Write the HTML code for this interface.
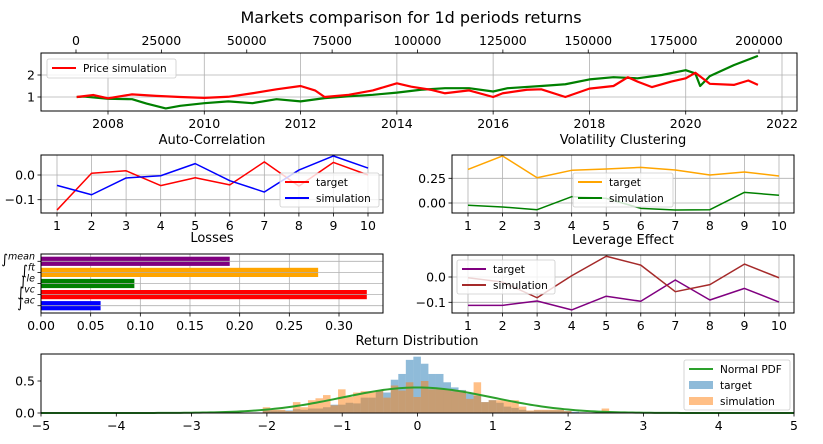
<!DOCTYPE html>
<html><head><meta charset="utf-8"><style>
html,body{margin:0;padding:0;background:#fff;}
svg{display:block;font-family:"DejaVu Sans","Liberation Sans",sans-serif;}
</style></head><body>
<svg id="fig" width="823" height="444" viewBox="0 0 823 444" xmlns="http://www.w3.org/2000/svg">
<text x="411" y="23" font-size="16" text-anchor="middle">Markets comparison for 1d periods returns</text>
</svg>
<script>
// ---- price panel data ----
const simYears=[2007.35,2007.7,2008,2008.5,2009,2009.5,2010,2010.5,2011,2011.5,2012,2012.3,2012.5,2013,2013.5,2014,2014.3,2014.7,2015,2015.5,2016,2016.2,2016.7,2017,2017.5,2018,2018.5,2018.8,2019,2019.3,2019.7,2020,2020.2,2020.5,2021,2021.3,2021.5];
const simPrice=[1.0,1.09,0.94,1.12,1.05,1.0,0.96,1.01,1.17,1.35,1.5,1.3,1.0,1.1,1.3,1.62,1.47,1.33,1.17,1.3,1.0,1.17,1.33,1.35,1.0,1.38,1.5,1.9,1.7,1.45,1.7,1.85,2.1,1.6,1.55,1.75,1.55];
const tgtYears=[2007.35,2007.5,2008,2008.5,2008.8,2009.2,2009.5,2010,2010.5,2011,2011.5,2012,2012.5,2013,2013.5,2014,2014.5,2015,2015.5,2016,2016.3,2017,2017.5,2018,2018.5,2019,2019.5,2020,2020.2,2020.3,2020.5,2021,2021.5];
const tgtPrice=[1.0,1.02,0.92,0.9,0.7,0.48,0.6,0.72,0.8,0.72,0.9,0.8,0.95,1.03,1.1,1.2,1.33,1.4,1.4,1.25,1.4,1.5,1.58,1.8,1.9,1.85,2.0,2.22,2.07,1.5,1.95,2.45,2.87];
const yearTicks=[2008,2010,2012,2014,2016,2018,2020,2022];
const stepTicks=[0,25000,50000,75000,100000,125000,150000,175000,200000];
// ---- lag panels ----
const lags=[1,2,3,4,5,6,7,8,9,10];
const acTarget=[-0.142,0.007,0.017,-0.043,-0.011,-0.04,0.053,-0.045,0.051,0.0];
const acSim=[-0.042,-0.08,-0.012,-0.003,0.046,-0.023,-0.069,0.02,0.077,0.028];
const vcTarget=[0.34,0.476,0.256,0.331,0.344,0.361,0.334,0.283,0.314,0.273];
const vcSim=[-0.023,-0.04,-0.068,0.064,0.047,-0.054,-0.071,-0.068,0.108,0.078];
const leTarget=[-0.112,-0.112,-0.095,-0.13,-0.076,-0.096,-0.012,-0.091,-0.045,-0.099];
const leSim=[-0.003,-0.02,-0.082,0.005,0.082,0.047,-0.058,-0.03,0.051,-0.003];
// ---- losses ----
const lossNames=['ac','vc','le','ft','mean'];
const lossValues=[0.06,0.328,0.094,0.279,0.19];
const lossColors=['blue','red','green','orange','purple'];
const lossTicks=[0,0.05,0.1,0.15,0.2,0.25,0.3];
// ---- histogram ----
const binStart=-2.055, binWidth=0.1;
const histTarget=[0.04,0.04,0.04,0.04,0.06,0.05,0.07,0.07,0.09,0.13,0.13,0.16,0.15,0.24,0.24,0.34,0.32,0.52,0.61,0.83,0.88,0.77,0.61,0.61,0.48,0.4,0.36,0.3,0.27,0.17,0.2,0.16,0.1,0.08,0.05,0.03,0.04,0.04,0.04,0.04,0.03,0.02,0.01,0,0,0];
const histSim=[0.09,0.05,0.05,0.03,0.17,0.09,0.2,0.23,0.28,0.12,0.37,0.25,0.32,0.34,0.34,0.36,0.24,0.43,0.35,0.48,0.25,0.5,0.37,0.38,0.36,0.34,0.35,0.22,0.48,0.17,0.2,0.2,0.2,0.2,0.1,0.04,0.05,0.05,0.05,0.05,0.03,0,0,0,0,0.07];
const histXTicks=[-5,-4,-3,-2,-1,0,1,2,3,4,5];

const svg=document.getElementById('fig');
const NS='http://www.w3.org/2000/svg';
function mk(tag,attrs,parent,txt){const e=document.createElementNS(NS,tag);for(const k in attrs)e.setAttribute(k,attrs[k]);if(txt!==undefined)e.textContent=txt;(parent||svg).appendChild(e);return e;}
function lin(d0,d1,r0,r1){return v=>r0+(v-d0)*(r1-r0)/(d1-d0);}
function grp(name){const g=mk('g',{});return g;}
const GRID='#b0b0b0';
function frame(g,x0,y0,x1,y1){const r=mk('rect',{x:x0,y:y0,width:x1-x0,height:y1-y0,fill:'none',stroke:'#000','stroke-width':1},g);}
function xtick(g,x,yb,label,grid,ytop){if(grid)mk('line',{x1:x,x2:x,y1:ytop,y2:yb,stroke:GRID,'stroke-width':0.8},g);mk('line',{x1:x,x2:x,y1:yb,y2:yb+3.5,stroke:'#000','stroke-width':0.8},g);const t=mk('text',{x:x,y:yb+17,'font-size':12.5,'text-anchor':'middle'},g,label);}
function ytick(g,y,xl,label,grid,xr){if(grid)mk('line',{x1:xl,x2:xr,y1:y,y2:y,stroke:GRID,'stroke-width':0.8},g);mk('line',{x1:xl-3.5,x2:xl,y1:y,y2:y,stroke:'#000','stroke-width':0.8},g);const t=mk('text',{x:xl-6,y:y+4.5,'font-size':12.5,'text-anchor':'end'},g,label);}
function line(g,xs,ys,sx,sy,color,name,w){const p=mk('polyline',{points:xs.map((x,i)=>sx(x)+','+sy(ys[i])).join(' '),fill:'none',stroke:color,'stroke-width':w||1.5,'stroke-linejoin':'round'},g);}
function legend(g,x,y,w,h,entries){const lg=mk('g',{},g);
 mk('rect',{x:x,y:y,width:w,height:h,rx:2,fill:'#fff','fill-opacity':0.8,stroke:'#ccc','stroke-width':0.8},lg);
 entries.forEach((e,i)=>{const cy=y+9+i*16;const eg=mk('g',{},lg);
  if(e.patch)mk('rect',{x:x+5,y:cy-4,width:24,height:8,fill:e.color,'fill-opacity':0.5},eg);else mk('line',{x1:x+5,x2:x+29,y1:cy,y2:cy,stroke:e.color,'stroke-width':2},eg);
  mk('text',{x:x+36,y:cy+4,'font-size':10.5},eg,e.label);});}
function title(g,x,y,t){const e=mk('text',{x:x,y:y,'font-size':13,'text-anchor':'middle'},g,t);}

// ---- price panel ----
(function(){const g=grp('price-panel');const X0=41,X1=797,Y0=53,Y1=111;
 const sx=lin(2008,2022,108,782), sy=lin(1,2,97,75), st=lin(0,200000,76,759);
 yearTicks.forEach(v=>xtick(g,sx(v),Y1,String(v),true,Y0));
 [1,2].forEach(v=>ytick(g,sy(v),X0,String(v),true,X1));
 stepTicks.forEach(v=>{const x=st(v);mk('line',{x1:x,x2:x,y1:Y0-3.5,y2:Y0,stroke:'#000','stroke-width':0.8},g);const t=mk('text',{x:x,y:Y0-8,'font-size':12.5,'text-anchor':'middle'},g,String(v));});
 line(g,tgtYears,tgtPrice,sx,sy,'green','target-price-line',2.2);
 line(g,simYears,simPrice,sx,sy,'red','simulated-price-line',2.2);
 frame(g,X0,Y0,X1,Y1);
 legend(g,47,59,129,19,[{label:'Price simulation',color:'red'}]);
})();
// ---- generic lag panel ----
function lagPanel(name,ttl,X0,X1,Y0,Y1,yA,pA,yB,pB,yticks,tA,tB,cA,cB,lgx,lgy,lgw){const g=grp(name);
 const sx=lin(1,10,X0+16,X1-15), sy=lin(yA,yB,pA,pB);
 lags.forEach(v=>xtick(g,sx(v),Y1,String(v),true,Y0));
 yticks.forEach(v=>ytick(g,sy(v[0]),X0,v[1],true,X1));
 line(g,lags,tA,sx,sy,cA,'target-line');line(g,lags,tB,sx,sy,cB,'simulation-line');
 frame(g,X0,Y0,X1,Y1);title(g,(X0+X1)/2,Y0-11,ttl);
 legend(g,lgx,lgy,lgw,34,[{label:'target',color:cA},{label:'simulation',color:cB}]);}
lagPanel('auto-correlation-panel','Auto-Correlation',41,383,155,213,0,175,-0.1,199.7,[[0,'0.0'],[-0.1,'\u22120.1']],acTarget,acSim,'red','blue',280,173,99);
lagPanel('volatility-clustering-panel','Volatility Clustering',452,794,155,213,0,203,0.25,178.3,[[0.25,'0.25'],[0,'0.00']],vcTarget,vcSim,'orange','green',573,173,100);
lagPanel('leverage-effect-panel','Leverage Effect',452,794,255,313,0,277,-0.1,302.3,[[0,'0.0'],[-0.1,'\u22120.1']],leTarget,leSim,'purple','brown',457,260,98);
// ---- losses ----
(function(){const g=grp('losses-panel');const X0=41,X1=383,Y0=254,Y1=313;
 const sx=lin(0,0.3,41,339), sy=lin(0,4,305.7,261.3);
 lossTicks.forEach(v=>{const x=sx(v);mk('line',{x1:x,x2:x,y1:Y0,y2:Y1,stroke:GRID,'stroke-width':0.8},g);});
 lossValues.forEach((v,i)=>{const r=mk('rect',{x:sx(0),y:sy(i)-4.6,width:sx(v)-sx(0),height:9.2,fill:lossColors[i]},g);});
 lossTicks.forEach(v=>xtick(g,sx(v),Y1,v.toFixed(2),false,Y0));
 lossNames.forEach((n,i)=>{const y=sy(i);mk('line',{x1:X0,x2:X1,y1:y,y2:y,stroke:GRID,'stroke-width':0.8},g);mk('line',{x1:X0-3.5,x2:X0,y1:y,y2:y,stroke:'#000','stroke-width':0.8},g);
  const t=mk('text',{x:X0-6,y:y+2,'font-size':10,'text-anchor':'end','font-style':'italic'},g);
  mk('tspan',{'font-size':13},t,'\u222B');mk('tspan',{dy:-4,'font-size':9.5},t,n);});
 frame(g,X0,Y0,X1,Y1);title(g,212,Y0-12,'Losses');
})();
// ---- histogram ----
(function(){const g=grp('return-distribution-panel');const X0=41,X1=794,Y0=354,Y1=413;
 const sx=lin(-5,5,X0,X1), sy=lin(0,0.5,413,381);
 histTarget.forEach((v,i)=>{if(!v)return;const a=binStart+i*binWidth;const r=mk('rect',{x:sx(a),y:sy(v),width:sx(a+binWidth)-sx(a),height:sy(0)-sy(v),fill:'#1f77b4','fill-opacity':0.5},g);});
 histSim.forEach((v,i)=>{if(!v)return;const a=binStart+i*binWidth;const r=mk('rect',{x:sx(a),y:sy(v),width:sx(a+binWidth)-sx(a),height:sy(0)-sy(v),fill:'#ff7f0e','fill-opacity':0.5},g);});
 const pts=[];for(let k=0;k<=200;k++){const x=-5+k*0.05;pts.push(sx(x)+','+sy(Math.exp(-x*x/2)/Math.sqrt(2*Math.PI)));}
 const p=mk('polyline',{points:pts.join(' '),fill:'none',stroke:'#2ca02c','stroke-width':2},g);
 histXTicks.forEach(v=>xtick(g,sx(v),Y1,v<0?'\u2212'+(-v):String(v),false,Y0));
 [[0,'0.0'],[0.5,'0.5']].forEach(v=>ytick(g,sy(v[0]),X0,v[1],false,X1));
 frame(g,X0,Y0,X1,Y1);title(g,417,Y0-9,'Return Distribution');
 legend(g,684,360,106,50,[{label:'Normal PDF',color:'#2ca02c'},{label:'target',color:'#1f77b4',patch:true},{label:'simulation',color:'#ff7f0e',patch:true}]);
})();
</script>
</body></html>
